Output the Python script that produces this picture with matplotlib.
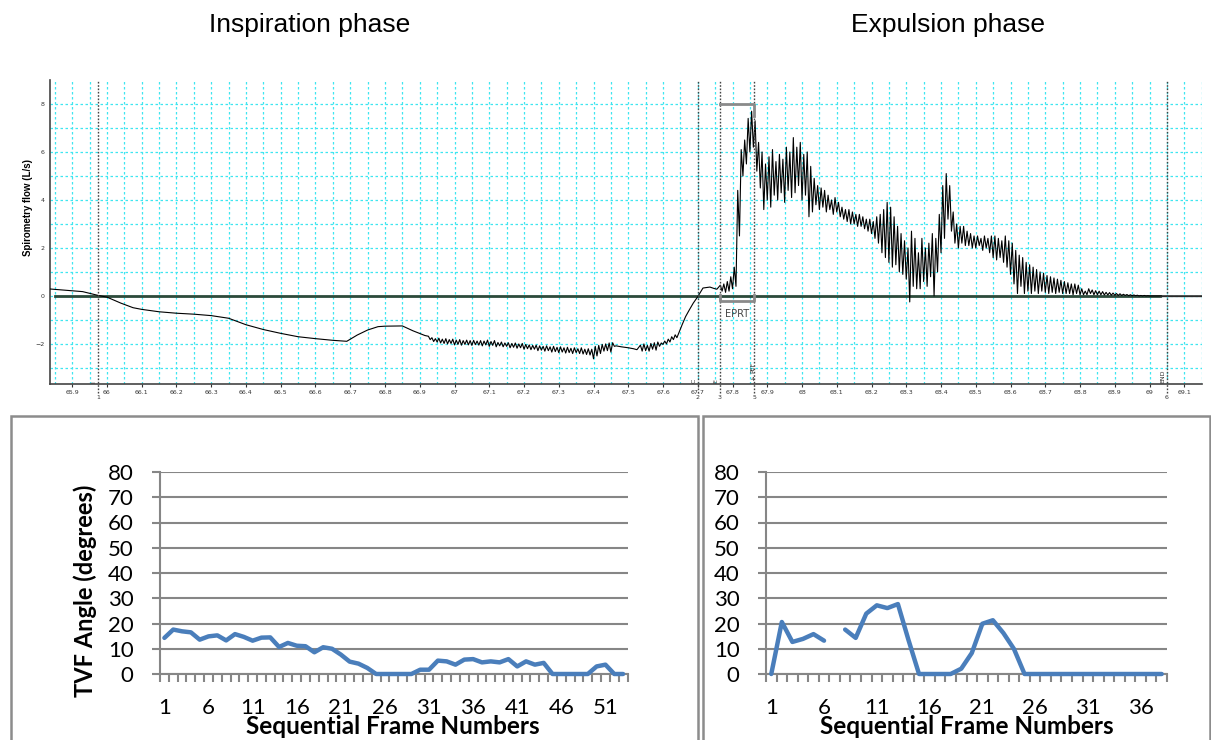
import numpy as np
import matplotlib
matplotlib.use("Agg")
import matplotlib.pyplot as plt
import matplotlib.transforms as mtransforms
from matplotlib.patches import Rectangle

# ---------------- spirometry recording (flow in L/s, time in s) ----------------
# smooth start of the inspiration
inspTime = [65.836, 65.88, 65.93, 65.975, 66.0, 66.04, 66.075, 66.1, 66.15, 66.2,
            66.25, 66.3, 66.35, 66.4, 66.45, 66.5, 66.55, 66.6, 66.65, 66.69,
            66.72, 66.75, 66.78, 66.8, 66.85, 66.88, 66.915]
inspFlow = [0.29, 0.24, 0.18, 0.02, -0.05, -0.3, -0.49, -0.56, -0.66, -0.72,
            -0.76, -0.82, -0.93, -1.2, -1.4, -1.56, -1.7, -1.78, -1.85, -1.89,
            -1.63, -1.42, -1.28, -1.26, -1.25, -1.45, -1.65]

# noisy plateau of the inspiration: peaks / troughs every 10 ms
inspNoiseStart = 66.925
inspNoiseHi = [-1.68, -1.74, -1.78, -1.76, -1.80, -1.78, -1.82, -1.80, -1.84, -1.82,
               -1.86, -1.84, -1.86, -1.85, -1.88, -1.86, -1.88, -1.84, -1.90, -1.86,
               -1.94, -1.92, -1.96, -1.95, -1.98, -1.96, -2.00, -1.98, -2.02, -2.04,
               -2.06, -2.05, -2.08, -2.10, -2.08, -2.12, -2.10, -2.14, -2.12, -2.16,
               -2.14, -2.18, -2.16, -2.20, -2.16, -2.22, -2.20, -2.22, -2.10, -2.06,
               -2.02, -2.00, -1.96, -1.95]
inspNoiseLo = [-1.82, -1.90, -1.92, -1.96, -1.98, -2.00, -1.98, -2.04, -2.02, -2.05,
               -2.02, -2.04, -2.06, -2.03, -2.05, -2.08, -2.04, -2.10, -2.06, -2.12,
               -2.08, -2.12, -2.10, -2.16, -2.14, -2.18, -2.16, -2.22, -2.20, -2.24,
               -2.22, -2.28, -2.26, -2.30, -2.28, -2.34, -2.32, -2.36, -2.34, -2.38,
               -2.36, -2.40, -2.36, -2.40, -2.42, -2.44, -2.46, -2.62, -2.50, -2.40,
               -2.30, -2.28, -2.34, -2.10]

midTime = [67.465, 67.48, 67.5, 67.515, 67.525]
midFlow = [-2.08, -2.12, -2.16, -2.2, -2.24]

inspNoise2Start = 67.535
inspNoise2Hi = [-2.05, -2.00, -2.06, -1.98, -1.95, -1.92, -1.96, -1.88, -1.80, -1.70, -1.62]
inspNoise2Lo = [-2.30, -2.28, -2.30, -2.22, -2.26, -2.10, -2.02, -2.00, -1.92, -1.82, -1.74]

riseTime = [67.645, 67.655, 67.665, 67.675, 67.687, 67.70, 67.715, 67.735, 67.745, 67.755]
riseFlow = [-1.56, -1.2, -0.86, -0.6, -0.3, -0.03, 0.33, 0.37, 0.32, 0.28]

# expulsion: peaks / troughs every 10 ms
expStart = 67.765
expHi = [0.45, 0.5, 0.6, 0.8, 1.2, 4.4, 6.1, 6.5, 7.4, 7.7,
         7.3, 6.4, 6.0, 5.5, 5.8, 6.1, 5.6, 5.9, 5.7, 6.2,
         6.0, 6.6, 6.2, 6.4, 5.9, 6.0, 5.4, 4.9, 4.6, 4.5,
         4.4, 4.2, 4.0, 4.1, 3.9, 3.7, 3.6, 3.6, 3.5, 3.4,
         3.4, 3.3, 3.2, 3.2, 3.1, 3.3, 3.4, 3.6, 3.9, 3.7,
         3.3, 2.9, 2.6, 2.3, 2.0, 2.7, 2.4, 1.8, 2.4, 2.0,
         2.2, 2.6, 2.4, 3.4, 4.6, 5.1, 4.6, 3.5, 3.0, 2.9,
         2.9, 2.7, 2.6, 2.5, 2.5, 2.4, 2.5, 2.4, 2.5, 2.5,
         2.4, 2.3, 2.5, 2.3, 2.2, 1.9, 1.7, 1.6, 1.4, 1.3,
         1.2, 1.1, 1.0, 0.95, 0.85, 0.8, 0.75, 0.7, 0.65, 0.6,
         0.55, 0.5, 0.5, 0.45, 0.3, 0.2, 0.3, 0.25, 0.22, 0.2,
         0.18, 0.15, 0.14, 0.12, 0.10, 0.09, 0.07, 0.06, 0.05, 0.04,
         0.03, 0.02, 0.02, 0.01]
expLo = [0.2, 0.15, 0.2, 0.3, 0.4, 2.5, 5.0, 5.5, 6.0, 6.2,
         5.2, 4.5, 3.6, 4.0, 3.7, 4.2, 4.0, 4.3, 3.9, 4.4,
         4.1, 4.3, 4.6, 4.0, 4.2, 3.3, 3.5, 3.8, 3.6, 3.7,
         3.5, 3.6, 3.4, 3.5, 3.3, 3.2, 3.1, 3.0, 3.0, 2.9,
         2.9, 2.8, 2.7, 2.6, 2.4, 2.2, 1.8, 1.6, 1.4, 1.2,
         1.3, 1.0, 0.9, 0.7, -0.25, 0.4, 0.3, 0.3, 0.6, 0.4,
         0.8, 0.0, 1.0, 1.8, 2.4, 3.2, 2.7, 2.2, 2.0, 2.2,
         2.1, 2.1, 2.0, 2.0, 2.1, 1.9, 2.0, 1.8, 1.6, 1.5,
         1.6, 1.4, 1.2, 0.9, 0.5, 0.1, 0.4, 0.1, 0.2, 0.1,
         0.2, 0.1, 0.2, 0.15, 0.1, 0.15, 0.1, 0.15, 0.1, 0.1,
         0.1, 0.05, 0.1, 0.05, 0.05, 0.05, 0.1, 0.05, 0.05, 0.05,
         0.04, 0.04, 0.03, 0.03, 0.02, 0.02, 0.02, 0.01, 0.01, 0.01,
         0.0, 0.0, 0.0, 0.0]

tailTime = [69.0, 69.15]
tailFlow = [0.0, 0.0]

# event markers on the recording
markerTimes = [65.974, 67.700, 67.764, 67.862, 69.050]
markerNums = ['1', '2', '3', '5', '6']
markerTags = ['I', 'C', 'E', 'PEF', 'END']

# ---------------- TVF angle per frame ----------------
inspAngles = [14.3, 17.6, 16.9, 16.5, 13.6, 14.9, 15.3, 13.3, 15.8, 14.7,
              13.2, 14.4, 14.5, 10.7, 12.3, 11.2, 11.0, 8.6, 10.6, 10.0,
              7.7, 4.9, 4.1, 2.4, 0, 0, 0, 0, 0, 1.7,
              1.7, 5.3, 5.0, 3.7, 5.7, 5.9, 4.6, 5.0, 4.6, 5.9,
              3.0, 5.0, 3.7, 4.4, 0, 0, 0, 0, 0, 3.0,
              3.7, 0, 0]
expAngles = [0, 20.6, 12.7, 13.9, 15.8, 13.2, np.nan, 17.6, 14.3, 23.9,
             27.2, 26.1, 27.7, 13.5, 0, 0, 0, 0, 2.1, 8.3,
             19.9, 21.3, 16.2, 9.9, 0, 0, 0, 0, 0, 0,
             0, 0, 0, 0, 0, 0, 0, 0]


def zigzag(start, hi, lo, step=0.01):
    vals = np.column_stack((hi, lo)).ravel()
    t = start + np.arange(len(vals)) * step / 2
    return t, vals


W, H = 1211.0, 740.0


def figBox(left, top, right, bottom):
    return [left / W, 1 - bottom / H, (right - left) / W, (bottom - top) / H]


fig = plt.figure(figsize=(12.11, 7.40), dpi=100)

# ---------------- top: spirometry flow ----------------
ax = fig.add_axes(figBox(50, 80, 1202, 384))

segs = [(np.array(inspTime), np.array(inspFlow)),
        zigzag(inspNoiseStart, inspNoiseHi, inspNoiseLo),
        (np.array(midTime), np.array(midFlow)),
        zigzag(inspNoise2Start, inspNoise2Hi, inspNoise2Lo),
        (np.array(riseTime), np.array(riseFlow)),
        zigzag(expStart, expHi, expLo),
        (np.array(tailTime), np.array(tailFlow))]
t = np.concatenate([s[0] for s in segs])
flow = np.concatenate([s[1] for s in segs])

ax.set_xlim(65.836, 69.151)
ax.set_ylim(-3.67, 9.0)

ax.set_xticks(np.round(np.arange(65.9, 69.11, 0.1), 2))
ax.set_xticks(np.round(np.arange(65.85, 69.16, 0.05), 3), minor=True)
ax.set_xticklabels(['%g' % v for v in np.round(np.arange(65.9, 69.11, 0.1), 2)])
ax.set_yticks([-2, 0, 2, 4, 6, 8])
ax.set_yticks(range(-3, 9), minor=True)
ax.grid(True, which='both', color='#3fe6f0', linestyle=(0, (2, 2)), lw=0.9)
ax.set_axisbelow(True)
ax.tick_params(axis='x', which='major', length=2, width=0.8, color='#333333',
               labelsize=4.5, labelcolor='#333333', pad=2)
ax.tick_params(axis='x', which='minor', length=0)
ax.tick_params(axis='y', which='both', length=0, labelsize=4.5, labelcolor='#333333', pad=4)
for side in ['top', 'right']:
    ax.spines[side].set_visible(False)
for side in ['left', 'bottom']:
    ax.spines[side].set_color('#444444')
    ax.spines[side].set_linewidth(1.2)

# zero line
ax.plot([65.85, 69.03], [0, 0], color='#2c4a3a', lw=2.0, zorder=2)
ax.plot([69.03, 69.15], [0, 0], color='#555555', lw=1.0, zorder=2)

ax.plot(t, flow, color='black', lw=0.8, zorder=3)

# event markers
trans = mtransforms.blended_transform_factory(ax.transData, ax.transAxes)
for mt, num, tag in zip(markerTimes, markerNums, markerTags):
    ax.plot([mt, mt], [-0.03, 1.0], transform=trans, color='#444444', lw=1.0,
            linestyle=(0, (1.2, 1.2)), clip_on=False, zorder=4)
    ax.text(mt, -0.045, num, transform=trans, ha='center', va='center',
            fontsize=4.5, color='#333333')
    if tag == 'PEF':
        ax.text(mt - 0.003, 0.035, tag, transform=trans, rotation=90, ha='center',
                va='bottom', fontsize=4.5, color='#333333')
        ax.text(mt - 0.003, 0.016, '4', transform=trans, ha='center', va='center',
                fontsize=4.5, color='#333333')
    else:
        ax.text(mt - 0.011, 0.003, tag, transform=trans, rotation=90, ha='center',
                va='bottom', fontsize=4.5, color='#333333')

# EPRT bracket
ax.plot([67.764, 67.862, 67.862], [8.0, 8.0, 7.5], color='#8a8a8a', lw=2, zorder=5)
ax.plot([67.764, 67.764, 67.862, 67.862], [0.05, -0.2, -0.2, 0.05], color='#8a8a8a', lw=2, zorder=5)
ax.text(67.814, -0.75, 'EPRT', ha='center', va='center', fontsize=7, color='#444444')

fig.text(28 / W, 1 - 208 / H, 'Spirometry flow (L/s)', rotation=90, ha='center', va='center',
         fontsize=7, fontweight='bold', family='Liberation Sans')

fig.text(310 / W, 1 - 25 / H, 'Inspiration phase', ha='center', va='center',
         fontsize=19, family='Liberation Sans')
fig.text(948 / W, 1 - 25 / H, 'Expulsion phase', ha='center', va='center',
         fontsize=19, family='Liberation Sans')

# ---------------- bottom: TVF angle charts ----------------
gridGray = '#868686'


def angleChart(box, values):
    axb = fig.add_axes(figBox(*box))
    n = len(values)
    cats = np.arange(1, n + 1)
    axb.plot(cats, values, color='#4a7ebb', lw=3.2, solid_capstyle='round',
             solid_joinstyle='round', clip_on=False, zorder=3)
    axb.set_xlim(0.5, n + 0.5)
    axb.set_ylim(0, 80)
    axb.set_yticks(range(0, 81, 10))
    axb.yaxis.grid(True, color=gridGray, lw=1.5)
    axb.set_axisbelow(True)
    axb.set_xticks(cats[::5])
    axb.set_xticklabels([str(c) for c in cats[::5]])
    axb.set_xticks(np.arange(0.5, n + 1, 1.0), minor=True)
    axb.tick_params(axis='x', which='major', length=0, pad=17, labelsize=16)
    axb.tick_params(axis='x', which='minor', length=6, width=1.5, color=gridGray)
    axb.tick_params(axis='y', length=6, width=1.5, color=gridGray, pad=13, labelsize=16)
    for side in ['top', 'right']:
        axb.spines[side].set_visible(False)
    for side in ['left', 'bottom']:
        axb.spines[side].set_color(gridGray)
        axb.spines[side].set_linewidth(1.5)
    for lab in axb.get_xticklabels() + axb.get_yticklabels():
        lab.set_family('Lato')
    return axb


angleChart((160, 472, 627.5, 674), inspAngles)
angleChart((766, 472, 1167, 674), expAngles)

fig.text(393 / W, 1 - 727 / H, 'Sequential Frame Numbers', ha='center', va='center',
         fontsize=17.5, fontweight='bold', family='Lato')
fig.text(967 / W, 1 - 727 / H, 'Sequential Frame Numbers', ha='center', va='center',
         fontsize=17.5, fontweight='bold', family='Lato')
fig.text(85 / W, 1 - 591 / H, 'TVF Angle (degrees)', rotation=90, ha='center', va='center',
         fontsize=17, fontweight='bold', family='Lato')

# panel frames
for left, right in [(11, 698), (703, 1210)]:
    fig.add_artist(Rectangle((left / W, -0.1), (right - left) / W, 0.1 + 1 - 416 / H,
                             transform=fig.transFigure, fill=False, ec='#8c8c8c', lw=1.8))

fig.savefig('out.png', dpi=100)
